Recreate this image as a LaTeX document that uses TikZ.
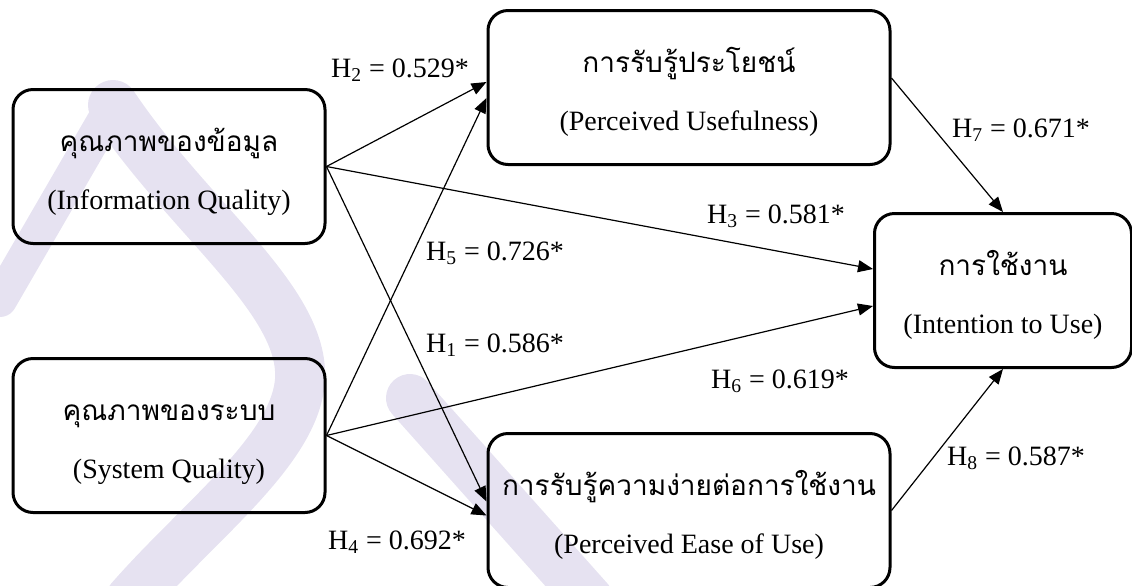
\documentclass[tikz,border=0pt]{standalone}
\usepackage{fontspec}
\setmainfont{Liberation Serif}
\newfontfamily\thaifont[Script=Thai]{Loma}
\usepackage{tikz}
\usetikzlibrary{arrows.meta}
\usetikzlibrary{positioning}
\definecolor{clmark}{RGB}{230,226,241}
\tikzstyle{block} = [rectangle, draw, line width=1.5pt, rounded corners=10pt, align=center, text centered, minimum width=156pt, minimum height=77pt, inner sep=0pt]
\tikzstyle{wideblock} = [block, minimum width=201pt]
\tikzstyle{line} = [draw, line width=0.6pt, -{Triangle[length=7.5pt,width=6pt]}]
\tikzstyle{hlabel} = [inner sep=0pt]
\tikzstyle{wmark} = [draw=clmark, line cap=round, line join=round]
\newcommand{\thline}[1]{\rule{0pt}{17pt}{\thaifont #1}}

\begin{document}
\begin{tikzpicture}[x=0.5pt, y=-0.5pt, every node/.style={font=\fontsize{14}{17}\selectfont}]
    \useasboundingbox (0,0) rectangle (1132,585);

    % watermark in the back
    \path [wmark, line width=17pt] (0,300) -- (113,105);
    \path [wmark, line width=25pt] (113,105) .. controls (190,220) and (305,300) .. (300,380) .. controls (295,450) and (200,520) .. (130,600);
    \path [wmark, line width=24pt] (410,398) -- (590,600);

    \node [block] (iq) at (169,166.5) {\thline{คุณภาพของข้อมูล}\\[12pt](Information Quality)};
    \node [block, below=56pt of iq] (sq) {\thline{คุณภาพของระบบ}\\[12pt](System Quality)};
    \node [wideblock, right=80pt of iq, yshift=39.5pt] (pu) {\thline{การรับรู้ประโยชน์}\\[12pt](Perceived Usefulness)};
    \node [wideblock, below=133pt of pu] (peou) {\thline{การรับรู้ความง่ายต่อการใช้งาน}\\[12pt](Perceived Ease of Use)};
    \node [block, minimum width=128.5pt, anchor=west] (iu) at (873,290.5) {\thline{การใช้งาน}\\[12pt](Intention to Use)};

    \path [line] (iq.east) -- ([yshift=2.75pt]pu.west);
    \path [line] (iq.east) -- ([yshift=10.75pt]iu.west);
    \path [line] (iq.east) -- ([yshift=4.5pt]peou.west);
    \path [line] (sq.east) -- ([yshift=-5.25pt]pu.west);
    \path [line] (sq.east) -- ([yshift=-7.75pt]iu.west);
    \path [line] (sq.east) -- ([yshift=-2.5pt]peou.west);
    \path [line] ([yshift=4.75pt]pu.east) -- (iu.north);
    \path [line] (peou.east) -- (iu.south);

    \node [hlabel] (h2) at (400,70) {H\textsubscript{2} = 0.529*};
    \node [hlabel] (h5) at (495,253) {H\textsubscript{5} = 0.726*};
    \node [hlabel] (h1) at (495,345) {H\textsubscript{1} = 0.586*};
    \node [hlabel] (h3) at (776,216) {H\textsubscript{3} = 0.581*};
    \node [hlabel] (h6) at (780,381) {H\textsubscript{6} = 0.619*};
    \node [hlabel] (h4) at (397,542) {H\textsubscript{4} = 0.692*};
    \node [hlabel] (h7) at (1021,130) {H\textsubscript{7} = 0.671*};
    \node [hlabel] (h8) at (1016,458) {H\textsubscript{8} = 0.587*};
\end{tikzpicture}
\end{document}
